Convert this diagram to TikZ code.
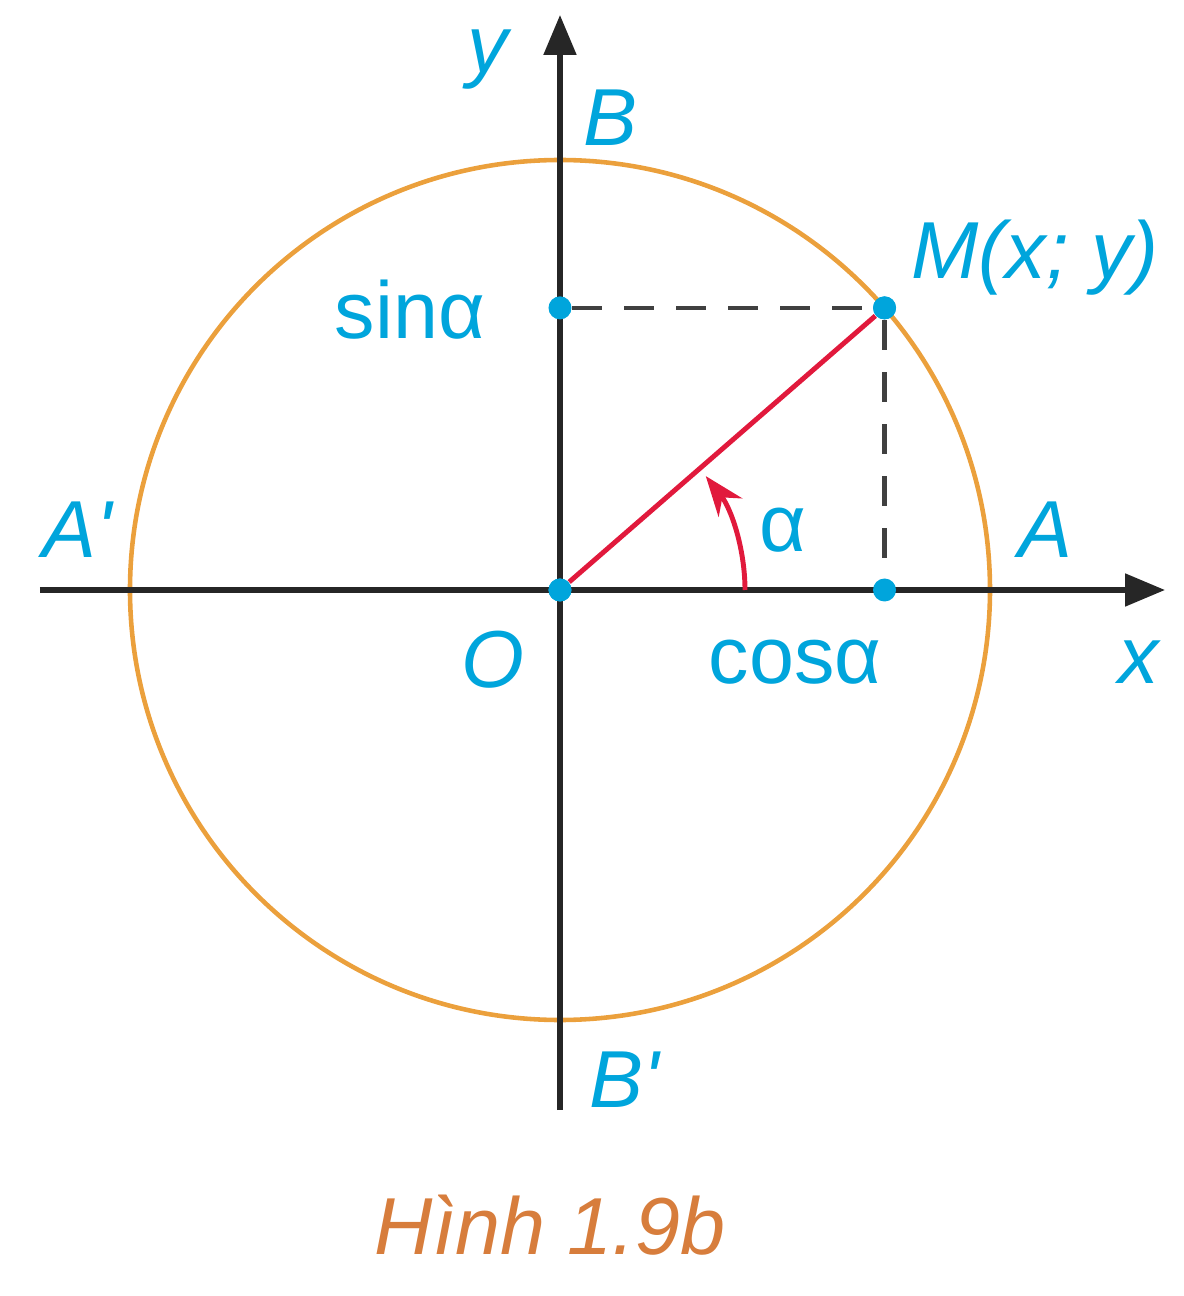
\documentclass[tikz,border=0pt]{standalone}
\usepackage{fontspec}
\setmainfont{Liberation Sans}
\usetikzlibrary{arrows.meta}
\definecolor{lblue}{RGB}{0,165,220}
\definecolor{ring}{RGB}{235,160,60}
\definecolor{vred}{RGB}{225,25,60}
\definecolor{capt}{RGB}{215,125,60}
\begin{document}
\begin{tikzpicture}
  [every node/.style={text=lblue,font=\fontsize{23}{27}\selectfont},
   dot/.style={circle,fill=lblue,inner sep=0pt,minimum size=2.3mm},
   axis/.style={line width=1.5pt,black!85,-{Triangle[length=4mm,width=3.2mm]}}]
  \useasboundingbox (-5.6,-7.06) rectangle (6.24,5.9);
  \coordinate (xl) at (-5.2,0);
  \coordinate (xr) at (6.05,0);
  \coordinate (yb) at (0,-5.2);
  \coordinate (yt) at (0,5.75);
  \draw[ring,line width=1.3pt] (0,0) circle (4.3);
 \path[axis]
        (xl) edge (xr)
        (yb) edge (yt);
  \node[dot] (O) at (0,0) {};
  \node[dot] (M) at (41:4.3) {};
  \node[dot] (S) at (0,{4.3*sin(41)}) {};
  \node[dot] (C) at ({4.3*cos(41)},0) {};
 \path[draw,dashed,dash pattern=on 3mm off 2.2mm,line width=1.2pt,black!75]
        (S) edge (M)
        (M) edge (C);
  \draw[vred,line width=1.4pt] (O) -- (M);
  \draw[vred,line width=1.4pt,-{Stealth[length=4mm,width=3mm]}] (1.85,0) arc (0:38:1.85);
  \node[dot] at (O) {};
  \node[dot] at (M) {};
  \node (ylab) at (-0.7,5.3) {\textit{y}};
  \node (Blab) at (0.5,4.72) {\textit{B}};
  \node (Mlab) at (4.75,3.32) {\textit{M(x; y)}};
  \node (sinlab) at (-1.5,2.8) {sinα};
  \node (A1lab) at (-4.82,0.6) {\textit{A\textquotesingle}};
  \node (Alab) at (4.85,0.6) {\textit{A}};
  \node (alab) at (2.23,0.6) {α};
  \node (Olab) at (-0.67,-0.7) {\textit{O}};
  \node (coslab) at (2.35,-0.72) {cosα};
  \node (xlab) at (5.8,-0.72) {\textit{x}};
  \node (B1lab) at (0.65,-4.9) {\textit{B\textquotesingle}};
  \node[text=capt] (cap) at (-0.1,-6.35) {\textit{Hình 1.9b}};
\end{tikzpicture}
\end{document}
